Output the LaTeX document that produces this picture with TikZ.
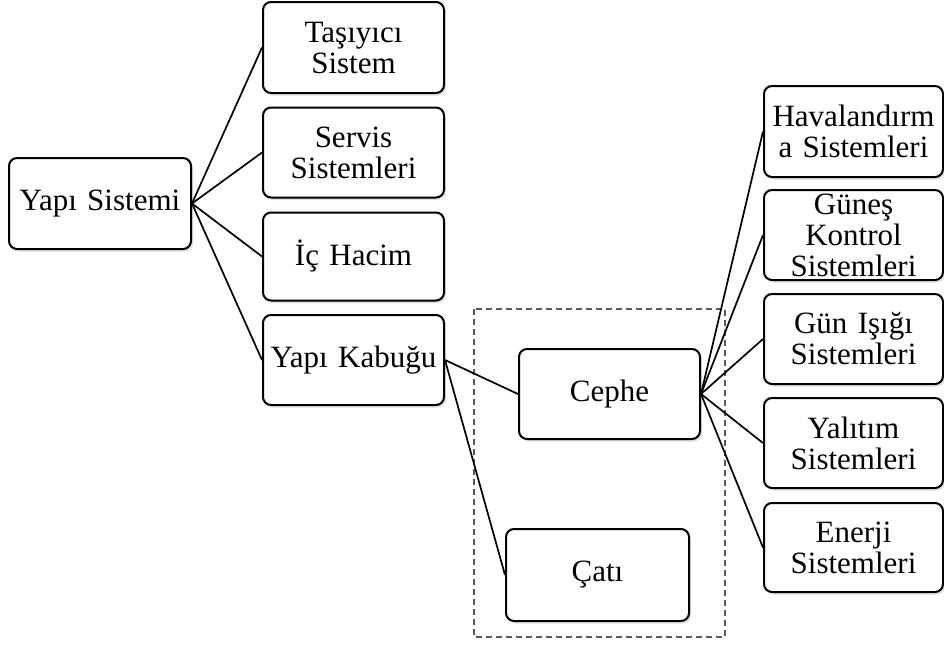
\documentclass[tikz,border=0pt]{standalone}
\usepackage{fontspec}
\setmainfont{Liberation Serif}
\usetikzlibrary{shadows}
\begin{document}
\begin{tikzpicture}[x=1pt,y=-1pt,
  box/.style={draw=black, line width=2pt, rounded corners=8pt, fill=white,
    inner sep=0pt, align=center, text width=#1,
    font=\fontsize{31}{31}\selectfont,
    drop shadow={shadow xshift=2pt, shadow yshift=-2.5pt, opacity=0.25}},
  box/.default=178pt,
  conn/.style={line width=1.7pt, draw=black}]
\useasboundingbox (0,0) rectangle (944,646);
\draw[gray!70!black, line width=1.5pt, dash pattern=on 6pt off 4pt] (474,309) rectangle (725,637);
\node[box, minimum width=182pt, minimum height=91pt] (ys) at (100,203.5) {Yapı Sistemi};
\node[box, minimum width=181pt, minimum height=91pt] (ts) at (353.5,47.5) {Taşıyıcı\\Sistem};
\node[box, minimum width=181pt, minimum height=90pt] (ss) at (353.5,152.5) {Servis\\Sistemleri};
\node[box, minimum width=181pt, minimum height=88pt] (ih) at (353.5,256.5) {İç Hacim};
\node[box, minimum width=181pt, minimum height=90pt] (yk) at (353.5,360) {Yapı Kabuğu};
\node[box, minimum width=181pt, minimum height=90pt] (ce) at (609.5,394) {Cephe};
\node[box, minimum width=183pt, minimum height=92pt] (ca) at (597.5,575) {Çatı};
\node[box, minimum width=179pt, minimum height=91pt] (hv) at (853.5,131.5) {Havalandırm\\a Sistemleri};
\node[box, minimum width=179pt, minimum height=90pt] (gk) at (853.5,235) {Güneş\\Kontrol\\Sistemleri};
\node[box, minimum width=179pt, minimum height=90pt] (gi) at (853.5,339) {Gün Işığı\\Sistemleri};
\node[box, minimum width=179pt, minimum height=90pt] (ya) at (853.5,443) {Yalıtım\\Sistemleri};
\node[box, minimum width=179pt, minimum height=89pt] (en) at (853.5,547.5) {Enerji\\Sistemleri};
\foreach \t in {ts,ss,ih,yk} \draw[conn] (ys.east) -- (\t.west);
\foreach \t in {ce,ca} \draw[conn] (yk.east) -- (\t.west);
\foreach \t in {hv,gk,gi,ya,en} \draw[conn] (ce.east) -- (\t.west);
\end{tikzpicture}
\end{document}
